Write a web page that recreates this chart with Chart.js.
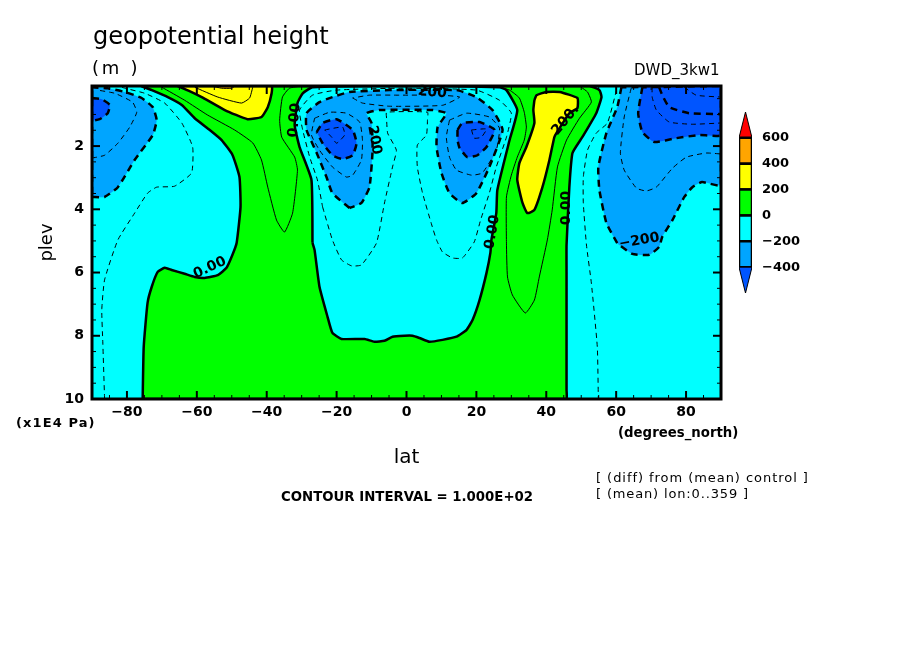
<!DOCTYPE html>
<html>
<head>
<meta charset="utf-8">
<title>geopotential height</title>
<script src="https://cdn.jsdelivr.net/npm/chart.js@4"></script>
<style>
  html, body { margin: 0; padding: 0; background: #fff; }
  #page { position: relative; width: 904px; height: 654px; overflow: hidden; font-family: "DejaVu Sans", sans-serif; color: #000; }
  canvas { position: absolute; }
  .note { position: absolute; white-space: nowrap; line-height: 1; }
</style>
</head>
<body>
<div id="page">
  <canvas id="main" width="904" height="654" style="left:0;top:0"></canvas>
  <canvas id="bar" width="90" height="210" style="left:730px;top:100px"></canvas>
  <div class="note" style="left:93px;top:24px;font-size:24px">geopotential height</div>
  <div class="note" style="left:92px;top:59px;font-size:18px;letter-spacing:2.7px">(m )</div>
  <div class="note" style="left:634px;top:63px;font-size:15px">DWD_3kw1</div>
  <div class="note" style="left:16px;top:416px;font-size:13px;font-weight:bold;letter-spacing:1.1px">(x1E4 Pa)</div>
  <div class="note" style="left:618px;top:426px;font-size:13.3px;font-weight:bold">(degrees_north)</div>
  <div class="note" style="left:281px;top:490px;font-size:13.3px;font-weight:bold">CONTOUR INTERVAL = 1.000E+02</div>
  <div class="note" style="left:596px;top:471px;font-size:13px;letter-spacing:0.95px">[ (diff) from (mean) control ]</div>
  <div class="note" style="left:596px;top:487px;font-size:13px;letter-spacing:0.85px">[ (mean) lon:0..359 ]</div>
</div>
<script>
const latTicks = [-80, -60, -40, -20, 0, 20, 40, 60, 80];
const latMinor = [-85, -75, -70, -65, -55, -50, -45, -35, -30, -25, -15, -10, -5, 5, 10, 15, 25, 30, 35, 45, 50, 55, 65, 70, 75, 85];
const plevTicks = [2, 4, 6, 8, 10];
const plevMinor = [0.5, 1, 1.5, 2.5, 3, 3.5, 4.5, 5, 5.5, 6.5, 7, 7.5, 8.5, 9, 9.5];
const barLevels = [-600, -400, -200, 0, 200, 400, 600, 800];
const barTicks = [-400, -200, 0, 200, 400, 600];
const barColors = ['#0055ff', '#00a5ff', '#00ffff', '#00ff00', '#ffff00', '#ffa500', '#ff0000'];

// contours as [lat, plev]
const zeroOuter = [[-75.5,10],[-75.2,8.35],[-74.1,6.96],[-72.9,6.45],[-71.2,5.98],[-69.2,5.85],[-67.2,5.92],[-63.5,6.04],[-60.6,6.14],[-57.8,6.17],[-54,6.08],[-51.5,5.85],[-49.8,5.44],[-48.6,5.06],[-47.5,3.93],[-47.8,2.98],[-49.8,2.28],[-52.9,1.81],[-56.3,1.49],[-60.6,1.12],[-64.3,0.7],[-68.3,0.45],[-72.9,0.23],[-75.8,0.1],[52.3,0.1],[55.2,0.23],[55.8,0.45],[54.3,0.96],[50.3,1.72],[47.5,2.22],[46.6,3.3],[45.8,5.13],[45.8,6.01],[45.8,9.7],[45.8,10],[44,10]];
const zeroHole = [[-26.9,5.06],[-27.2,3.07],[-30.6,2.03],[-32,1.34],[-31.2,0.64],[-29.7,0.33],[-26.9,0.14],[-2,0.1],[26.6,0.14],[28.6,0.23],[31.7,0.86],[29.5,1.81],[26,3.39],[25.7,4.12],[24.3,4.97],[24,5.38],[22.9,6.01],[20.9,6.87],[18.9,7.5],[17.2,7.81],[14.3,8.03],[10.3,8.13],[6.6,8.19],[3.7,8.07],[1.7,8],[-0.6,8],[-4,8.03],[-6.3,8.16],[-9.2,8.19],[-12,8.1],[-18.6,8.1],[-21.2,7.91],[-22.6,7.4],[-24.9,6.45],[-26.3,5.29]];
const yellowLeft = [[-65.5,0.1],[-62.1,0.26],[-58.6,0.45],[-52,0.86],[-45.5,1.15],[-41.5,1.08],[-39.7,0.77],[-38.6,0.33],[-38.6,0.1]];
const orangeLeft = [[-55.8,0.1],[-52.9,0.17],[-50,0.17],[-49.2,0.1]];
const yellowRight = [[36.6,0.55],[37.2,0.39],[40,0.29],[43.8,0.29],[48.9,0.48],[48.9,0.8],[46.6,0.96],[42.9,1.59],[42.3,1.72],[40.9,2.44],[38.9,3.3],[36.6,4.02],[34.6,4.12],[33.2,3.8],[31.7,3.07],[32.3,2.54],[34.3,2.03],[36.6,1.27],[36.3,0.86]];
const pos300 = [[-60.6,0.14],[-54,0.45],[-47.2,0.64],[-44.9,0.48],[-44,0.14]];
const pos100Left = [[-70,0.14],[-63.5,0.55],[-56.9,1.02],[-49.2,1.49],[-44,1.9],[-41.5,2.44],[-39.7,3.3],[-37.2,4.34],[-34.9,4.72],[-32.6,4.12],[-31.2,2.76],[-32,2.35],[-35.7,1.72],[-36.3,1.18],[-35.5,0.45],[-33.5,0.17],[-30,0.1]];
const pos100Right = [[26.6,0.14],[29.5,0.23],[32.3,0.48],[33.7,0.93],[34.3,1.4],[33.7,1.81],[31.7,2.35],[30,2.92],[28.6,3.61],[28.6,5.07],[28.9,6.14],[30.3,6.71],[34,7.28],[36.6,6.87],[38,6.14],[40.3,4.97],[41.7,4.02],[43.2,2.66],[45.8,1.81],[49.5,1.12],[52.9,0.61],[51.8,0.29],[50,0.14]];
const neg200Center = [[-16.3,3.96],[-21.2,3.49],[-22.9,2.98],[-25.7,2.22],[-28.6,1.49],[-28.6,0.96],[-24.9,0.61],[-21.2,0.45],[-16.3,0.29],[-4.9,0.23],[14.3,0.23],[20,0.45],[24.6,0.86],[27.5,1.49],[23.7,2.66],[20,3.49],[16,3.8],[12.3,3.49],[10,2.85],[8.6,2.03],[8.9,1.4],[11.4,0.96],[7.4,0.86],[-7.7,0.86],[-11.4,0.96],[-10,1.27],[-9.7,2.13],[-10.6,3.3],[-12.9,3.8]];
const neg400CenterL = [[-25.7,1.56],[-24,1.27],[-20,1.15],[-15.4,1.49],[-14.3,1.91],[-15.4,2.29],[-18.3,2.41],[-21.2,2.29],[-24,1.91]];
const neg400CenterR = [[14.6,1.49],[16,1.27],[20.9,1.24],[25.2,1.49],[22.9,2.03],[20.3,2.29],[17.4,2.35],[15.2,2.06],[14.6,1.81]];
const neg500CenterL = [[-23.4,1.49],[-18.3,1.4],[-17.7,1.65],[-20,1.91],[-21.4,1.72]];
const neg500CenterR = [[18.6,1.49],[22.9,1.46],[21.4,1.72],[19.4,1.75]];
const neg300CenterL = [[-26.3,1.12],[-22,0.93],[-17.2,0.96],[-13.4,1.24],[-12.6,1.81],[-12.9,2.44],[-15.4,2.92],[-17.2,2.98],[-21.2,2.66],[-24.9,2.13],[-27.2,1.65]];
const neg300CenterR = [[12.3,1.18],[17.2,0.96],[23.7,1.08],[26.6,1.43],[25.7,2.13],[21.7,2.85],[18.6,2.92],[14.3,2.76],[12.3,2.35],[11.4,1.72]];
const neg300Top = [[-15.4,0.48],[-12.6,0.64],[-4.9,0.74],[10.3,0.71],[15.2,0.45],[9.4,0.39],[-2,0.39],[-10.6,0.39]];
const neg100Center = [[-24,3.93],[-21.2,4.97],[-18.6,5.6],[-15.7,5.79],[-12.9,5.76],[-8.6,5.07],[-6.3,3.8],[-4,2.66],[-2.9,2.13],[-5.4,1.59],[-5.7,1.12],[-5.7,0.93],[6,0.93],[6,1.18],[5.7,1.65],[3.1,1.97],[3.1,2.66],[4.6,3.49],[7.4,4.56],[8.6,4.97],[10.3,5.35],[13.2,5.54],[16,5.54],[19.4,5.03],[21.2,4.34],[23.7,3.49],[25.7,2.66],[28.6,1.72],[30,0.96],[26.6,0.55],[20,0.23],[-1.1,0.17],[-20,0.23],[-26.9,0.39],[-30.6,0.86],[-29.7,1.49],[-27.7,2.35],[-25.5,3.07]];
const neg200Left = [[-90,3.61],[-86.4,3.61],[-82.6,3.3],[-77.8,2.44],[-72.6,1.65],[-71.5,1.18],[-72.6,0.77],[-75.8,0.48],[-80.6,0.29],[-85.5,0.17],[-89.8,0.14],[-90,0.1]];
const neg400Left = [[-90,0.48],[-87.2,0.52],[-84.9,0.7],[-85.5,0.96],[-87.8,1.15],[-90,1.18]];
const neg300Left = [[-90,2.38],[-86.4,2.29],[-82.6,1.91],[-79.2,1.4],[-77.2,0.93],[-78.4,0.61],[-83.5,0.33],[-88.4,0.23]];
const neg100Left = [[-86.4,10],[-86.9,8.23],[-87.2,7.18],[-86.4,6.23],[-82.6,4.97],[-77.8,4.12],[-74.1,3.49],[-71.5,3.3],[-66.4,3.27],[-61.5,2.85],[-61.2,2.03],[-64.3,1.27],[-69.2,0.64],[-74.9,0.33],[-80.6,0.17],[-82.6,0.1]];
const neg200Right = [[61.5,0.14],[60.3,0.77],[57.2,1.59],[54.9,2.66],[55.2,3.39],[57.2,4.43],[60.3,5.07],[60.9,5.13],[64.6,5.41],[69.5,5.44],[72.3,5.19],[73.2,4.87],[76.1,4.34],[79.5,3.61],[81.8,3.3],[84.6,3.14],[90,3.23],[90,0.1]];
const neg400Right = [[67.5,0.14],[66.3,0.96],[67.5,1.56],[70.9,1.87],[77.2,1.75],[83.8,1.65],[90,1.65],[90,0.1]];
const neg500Right = [[70.3,0.14],[70.3,0.45],[71.5,0.86],[75.2,1.24],[81.8,1.31],[90,1.27]];
const neg600Right = [[72.3,0.14],[73.2,0.39],[75.2,0.77],[80.9,0.96],[90,0.99]];
const neg700Right = [[79.5,0.14],[82.9,0.39],[90,0.45]];
const neg300Right = [[64.3,0.17],[62.3,1.08],[61.2,2.22],[62.3,2.76],[65.8,3.33],[68.6,3.42],[71.5,3.3],[76.1,2.7],[80.1,2.35],[85.8,2.22],[90,2.25]];
const neg100Right = [[60.1,0.23],[57.5,1.27],[54.3,1.59],[51.8,2.13],[50.6,2.98],[50.6,3.8],[51.5,5.13],[52.9,6.33],[54.6,8.35],[54.9,10]];
const plotCorners = [[-90,0.1],[90,0.1],[90,10],[-90,10]];

const contourTexts = ['0.00', '0.00', '200', '\u2212200', '0.00', '200.', '0.00', '\u2212200'];
const contourLats = [-56.3, -32, -9.2, 5.7, 24.6, 45.5, 45.8, 66.6];
const contourPlevs = [5.85, 1.18, 1.81, 0.29, 4.72, 1.18, 3.96, 5.0];
const contourAngles = [-25, -85, 80, 5, -80, -50, -90, -10];

const CYAN = barColors[2], GREEN = barColors[3], YELLOW = barColors[4], ORANGE = barColors[5];
const BLUE = barColors[1], DARK = barColors[0];

const closed = pts => pts.concat([pts[0]]);

function area(pts, color, width, dash) {
  return { data: closed(pts), backgroundColor: color, fill: 'shape', borderColor: width ? '#000' : 'transparent', borderWidth: width, borderDash: dash || [] };
}
function line(pts, dash, width) {
  return { data: pts, fill: false, borderColor: '#000', borderWidth: width || 1, borderDash: dash || [] };
}

const THICK = [7, 5], THIN = [5, 4];

// paint order: first one ends up at the bottom
const layers = [
  area(plotCorners, CYAN, 0),
  area(zeroOuter, GREEN, 2.5),
  area(zeroHole, CYAN, 2.5),
  area(yellowLeft, YELLOW, 2.5),
  area(orangeLeft, ORANGE, 1),
  area(yellowRight, YELLOW, 2.5),
  area(neg200Center, BLUE, 2.5, THICK),
  area(neg400CenterL, DARK, 2.5, THICK),
  area(neg400CenterR, DARK, 2.5, THICK),
  area(neg200Left, BLUE, 2.5, THICK),
  area(neg400Left, DARK, 2.5, THICK),
  area(neg200Right, BLUE, 2.5, THICK),
  area(neg400Right, DARK, 2.5, THICK),
  line(pos300),
  line(pos100Left),
  line(pos100Right),
  line(closed(neg100Center), THIN),
  line(closed(neg300CenterL), THIN),
  line(closed(neg300CenterR), THIN),
  line(closed(neg300Top), THIN),
  line(closed(neg500CenterL), THIN),
  line(closed(neg500CenterR), THIN),
  line(neg300Left, THIN),
  line(neg100Left, THIN),
  line(neg500Right, THIN),
  line(neg600Right, THICK, 2.5),
  line(neg700Right, THIN),
  line(neg300Right, THIN),
  line(neg100Right, THIN)
];

const minusText = v => String(v).replace('-', '\u2212');

// inward ticks on all four sides, frame and contour labels
const framePlugin = {
  id: 'frame',
  afterDatasetsDraw(chart) {
    const { ctx, chartArea: a, scales: { x, y } } = chart;
    const seg = (x1, y1, x2, y2, w) => {
      ctx.lineWidth = w;
      ctx.beginPath(); ctx.moveTo(x1, y1); ctx.lineTo(x2, y2); ctx.stroke();
    };
    ctx.save();
    ctx.strokeStyle = '#000';
    latTicks.forEach(v => { const p = x.getPixelForValue(v); seg(p, a.bottom, p, a.bottom - 8, 2); seg(p, a.top, p, a.top + 8, 2); });
    latMinor.forEach(v => { const p = x.getPixelForValue(v); seg(p, a.bottom, p, a.bottom - 4, 1); seg(p, a.top, p, a.top + 4, 1); });
    plevTicks.forEach(v => { const p = y.getPixelForValue(v); seg(a.left, p, a.left + 8, p, 2); seg(a.right, p, a.right - 8, p, 2); });
    plevMinor.forEach(v => { const p = y.getPixelForValue(v); seg(a.left, p, a.left + 4, p, 1); seg(a.right, p, a.right - 4, p, 1); });
    ctx.lineWidth = 3;
    ctx.strokeRect(a.left, a.top, a.right - a.left, a.bottom - a.top);

    ctx.fillStyle = '#000';
    ctx.font = 'bold 14px "DejaVu Sans"';
    ctx.textAlign = 'center';
    ctx.textBaseline = 'middle';
    contourTexts.forEach((t, i) => {
      ctx.save();
      ctx.translate(x.getPixelForValue(contourLats[i]), y.getPixelForValue(contourPlevs[i]));
      ctx.rotate(contourAngles[i] * Math.PI / 180);
      ctx.fillText(t, 0, 0);
      ctx.restore();
    });
    ctx.restore();
  }
};

new Chart(document.getElementById('main'), {
  type: 'scatter',
  data: {
    datasets: layers.map((d, i) => ({ ...d, order: layers.length - i, showLine: true, pointRadius: 0, tension: 0.15 }))
  },
  options: {
    responsive: false,
    animation: false,
    devicePixelRatio: 1,
    layout: { padding: { left: 0, top: 86, right: 183, bottom: 0 } },
    plugins: { legend: { display: false }, tooltip: { enabled: false } },
    scales: {
      x: {
        type: 'linear', min: -90, max: 90,
        afterBuildTicks: s => { s.ticks = latTicks.map(v => ({ value: v })); },
        afterFit: s => { s.height = 255; },
        grid: { display: false }, border: { display: false },
        ticks: { color: '#000', font: { family: '"DejaVu Sans"', size: 14, weight: 'bold' }, padding: -3, maxRotation: 0, autoSkip: false, callback: minusText },
        title: { display: true, text: 'lat', color: '#000', font: { family: '"DejaVu Sans"', size: 20 }, padding: { top: 0, bottom: 184 } }
      },
      y: {
        type: 'linear', min: 0.1, max: 10, reverse: true,
        afterBuildTicks: s => { s.ticks = plevTicks.map(v => ({ value: v })); },
        afterFit: s => { s.width = 92; },
        grid: { display: false }, border: { display: false },
        ticks: { color: '#000', font: { family: '"DejaVu Sans"', size: 14, weight: 'bold' }, padding: 0, autoSkip: false, callback: v => String(v) },
        title: { display: true, text: 'plev', color: '#000', font: { family: '"DejaVu Sans"', size: 18 }, padding: { top: 37, bottom: 0 } }
      }
    }
  },
  plugins: [framePlugin]
});

// colour bar, each box goes between two levels, the ends are triangles
const barBoxes = barColors.map((color, i) => {
  const lo = barLevels[i], hi = barLevels[i + 1];
  let pts = [[0, lo], [1, lo], [1, hi], [0, hi]];
  if (i === 0) pts = [[0.5, lo], [1, hi], [0, hi]];
  if (i === barColors.length - 1) pts = [[0, lo], [1, lo], [0.5, hi]];
  return { data: closed(pts), backgroundColor: color, fill: 'shape', borderColor: '#000', borderWidth: i === 0 || i === barColors.length - 1 ? 1 : 2.5 };
});

new Chart(document.getElementById('bar'), {
  type: 'scatter',
  data: { datasets: barBoxes.map(d => ({ ...d, showLine: true, pointRadius: 0 })) },
  options: {
    responsive: false,
    animation: false,
    devicePixelRatio: 1,
    layout: { padding: { left: 9, top: 12, right: 0, bottom: 17 } },
    plugins: { legend: { display: false }, tooltip: { enabled: false } },
    scales: {
      x: { type: 'linear', min: 0, max: 1, display: false },
      y: {
        type: 'linear', min: -600, max: 800, position: 'right',
        afterBuildTicks: s => { s.ticks = barTicks.map(v => ({ value: v })); },
        afterFit: s => { s.width = 68; s.paddingTop = 0; s.paddingBottom = 0; },
        grid: { display: false }, border: { display: false },
        ticks: { color: '#000', font: { family: '"DejaVu Sans"', size: 13, weight: 'bold' }, padding: 2, autoSkip: false, callback: minusText }
      }
    }
  }
});
</script>
</body>
</html>
